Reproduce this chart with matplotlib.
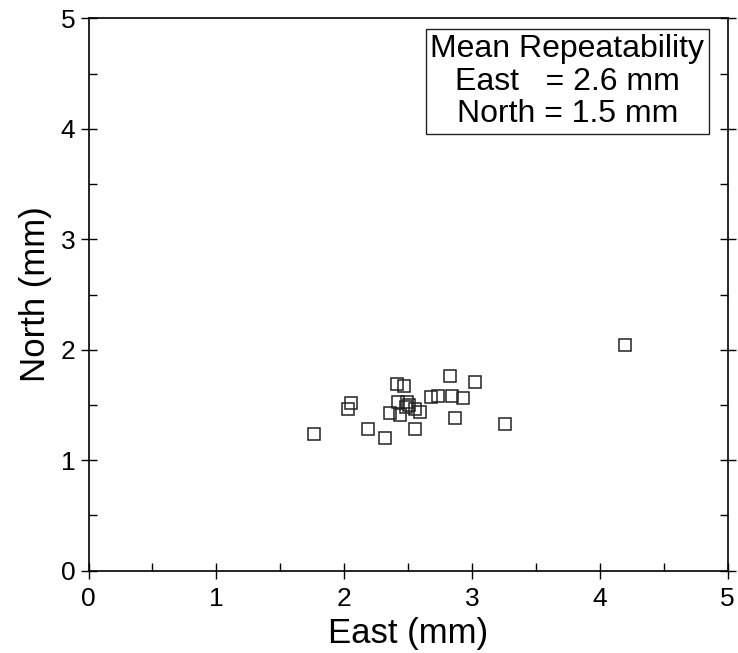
import matplotlib
matplotlib.use("Agg")
import matplotlib.pyplot as plt
from matplotlib.ticker import MultipleLocator

east = [1.76, 2.05, 2.03, 2.19, 2.32, 2.41, 2.47, 2.42, 2.36, 2.44, 2.48, 2.49,
        2.51, 2.55, 2.59, 2.55, 2.68, 2.73, 2.83, 2.84, 2.93, 3.02, 2.87, 3.26, 4.20]
north = [1.24, 1.52, 1.46, 1.28, 1.20, 1.69, 1.67, 1.53, 1.43, 1.41, 1.48, 1.53,
         1.50, 1.46, 1.44, 1.28, 1.57, 1.58, 1.76, 1.58, 1.56, 1.71, 1.38, 1.33, 2.04]

plt.rcParams['font.family'] = ['Liberation Sans', 'DejaVu Sans']

fig = plt.figure(figsize=(7.38, 6.53), dpi=100)
ax = fig.add_axes([0.120, 0.126, 0.866, 0.846])

ax.plot(east, north, linestyle='none', marker='s', markersize=8,
        markerfacecolor='none', markeredgecolor='#222222', markeredgewidth=1.1)

ax.set_xlim(0, 5)
ax.set_ylim(0, 5)
ax.xaxis.set_major_locator(MultipleLocator(1))
ax.yaxis.set_major_locator(MultipleLocator(1))
ax.xaxis.set_minor_locator(MultipleLocator(0.5))
ax.yaxis.set_minor_locator(MultipleLocator(0.5))
ax.tick_params(which='major', direction='inout', length=12, width=1,
               labelsize=19, left=True, bottom=True, right=True, top=False)
ax.tick_params(which='minor', direction='in', length=6, width=1,
               left=True, bottom=True, right=True, top=False)
ax.tick_params(axis='x', pad=6)
for s in ax.spines.values():
    s.set_linewidth(1.2)

ax.set_xlabel('East (mm)', fontsize=25, labelpad=4)
ax.set_ylabel('North (mm)', fontsize=25, labelpad=6)

ax.text(0.749, 0.972, 'Mean Repeatability\nEast   = 2.6 mm\nNorth = 1.5 mm',
        transform=ax.transAxes, fontsize=23, ha='center', va='top',
        linespacing=1.12,
        bbox=dict(boxstyle='square,pad=0.14', facecolor='white',
                  edgecolor='#222222', linewidth=1))

fig.savefig('out.png', dpi=100)
